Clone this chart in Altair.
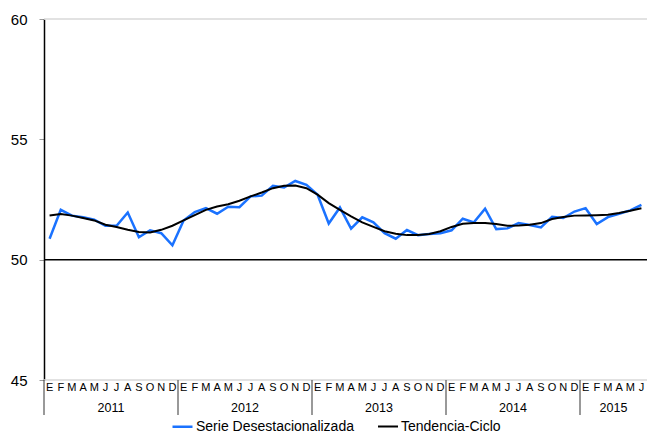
import altair as alt
import pandas as pd

months = ["E", "F", "M", "A", "M", "J", "J", "A", "S", "O", "N", "D"]
years = ["2011", "2012", "2013", "2014", "2015"]
month_labels = months * 4 + months[:6]

serie = [
    50.87, 52.07, 51.83, 51.76, 51.66, 51.41, 51.41, 51.96, 50.93, 51.22, 51.10, 50.60,
    51.63, 51.98, 52.14, 51.91, 52.20, 52.18, 52.63, 52.66, 53.07, 53.00, 53.27, 53.11,
    52.70, 51.50, 52.17, 51.29, 51.76, 51.55, 51.10, 50.87, 51.23, 51.02, 51.07, 51.10,
    51.22, 51.70, 51.55, 52.12, 51.27, 51.30, 51.52, 51.44, 51.34, 51.78, 51.73, 52.00,
    52.14, 51.48, 51.77, 51.91, 52.05, 52.28,
]
tendencia = [
    51.84, 51.90, 51.83, 51.73, 51.63, 51.45, 51.36, 51.24, 51.15, 51.13, 51.24, 51.41,
    51.63, 51.85, 52.07, 52.21, 52.30, 52.45, 52.63, 52.79, 52.97, 53.07, 53.08, 52.97,
    52.70, 52.35, 52.07, 51.80, 51.55, 51.36, 51.18, 51.08, 51.02, 51.02, 51.07, 51.18,
    51.36, 51.49, 51.52, 51.52, 51.48, 51.41, 51.42, 51.45, 51.52, 51.69, 51.77, 51.83,
    51.84, 51.85, 51.87, 51.94, 52.03, 52.14,
]

S1 = "Serie Desestacionalizada"
S2 = "Tendencia-Ciclo"
n = len(serie)

df = pd.DataFrame(
    [{"idx": i + 0.5, "value": v, "series": S1} for i, v in enumerate(serie)]
    + [{"idx": i + 0.5, "value": v, "series": S2} for i, v in enumerate(tendencia)]
)
mdf = pd.DataFrame({"idx": [i + 0.5 for i in range(n)], "label": month_labels})
year_centers = [6, 18, 30, 42, 51]
ydf = pd.DataFrame({"idx": year_centers, "label": years})
sep_df = pd.DataFrame({"idx": [0, 12, 24, 36, 48]})

W, H = 603, 361
FONT = "Liberation Sans"

xscale = alt.Scale(domain=[0, n], nice=False, zero=False)
yscale = alt.Scale(domain=[45, 60], nice=False, zero=False)

base_x = alt.X("idx:Q", scale=xscale, axis=None)

lines = alt.Chart(df).mark_line().encode(
    x=base_x,
    y=alt.Y("value:Q", scale=yscale,
            axis=alt.Axis(values=[45, 50, 55, 60], grid=False, domainColor="black",
                          domainWidth=1.5, tickColor="#999999", tickSize=5,
                          labelFontSize=15, labelFont=FONT, labelColor="black",
                          labelPadding=12, title=None)),
    color=alt.Color("series:N", scale=alt.Scale(domain=[S1, S2], range=["#1a72ff", "#000000"]),
                    legend=alt.Legend(title=None, orient="none", legendX=127, legendY=396,
                                      direction="horizontal", symbolType="stroke",
                                      symbolSize=400, symbolStrokeWidth=2,
                                      labelFont=FONT, labelFontSize=14, labelColor="black",
                                      labelOffset=2, columnPadding=20)),
    strokeWidth=alt.StrokeWidth("series:N", scale=alt.Scale(domain=[S1, S2], range=[2.5, 2]),
                                legend=None),
)

rule50 = alt.Chart(pd.DataFrame({"y": [50]})).mark_rule(color="black", strokeWidth=1.5).encode(
    y=alt.Y("y:Q", scale=yscale)
)
border = alt.Chart(pd.DataFrame({"y": [60, 45]})).mark_rule(color="#d9d9d9", strokeWidth=1.5).encode(
    y=alt.Y("y:Q", scale=yscale)
)

mtext = alt.Chart(mdf).mark_text(font=FONT, fontSize=11, color="black", baseline="middle").encode(
    x=base_x, y=alt.value(H + 8), text="label:N"
)
ytext = alt.Chart(ydf).mark_text(font=FONT, fontSize=12.5, color="black", baseline="middle").encode(
    x=base_x, y=alt.value(H + 28), text="label:N"
)
seps = alt.Chart(sep_df).mark_rule(color="#555555", strokeWidth=1.2).encode(
    x=base_x, y=alt.value(H), y2=alt.value(H + 35)
)

chart = alt.layer(border, rule50, seps, mtext, ytext, lines).properties(
    width=W, height=H,
    autosize=alt.AutoSizeParams(type="none"),
    padding={"left": 36, "top": 11, "right": 0, "bottom": 56},
).configure_view(stroke=None)

chart.save("out.html", embed_options={"renderer": "svg", "actions": False})
